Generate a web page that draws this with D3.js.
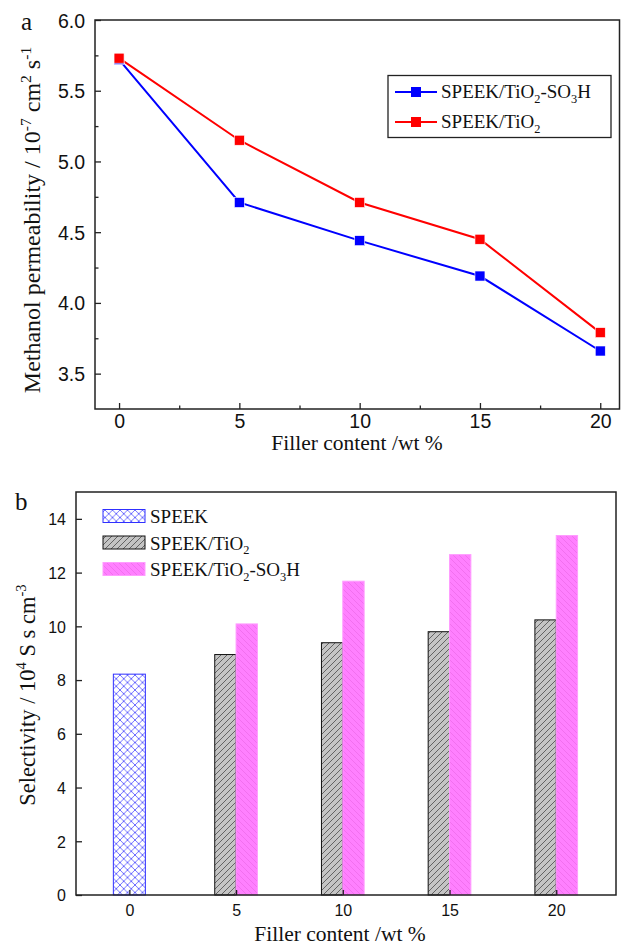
<!DOCTYPE html>
<html>
<head>
<meta charset="utf-8">
<script src="https://cdn.jsdelivr.net/npm/d3@7/dist/d3.min.js"></script>
<style>
  body { margin: 0; background: #fff; }
  svg { display: block; }
</style>
</head>
<body>
<div id="chart"></div>
<script>
// ---- data: panel a (methanol permeability) ----
const fillerA = [0, 5, 10, 15, 20];
const permSO3H = [5.72, 4.71, 4.44, 4.19, 3.66];
const permTiO2 = [5.73, 5.15, 4.71, 4.45, 3.79];
const yTicksA = [3.5, 4.0, 4.5, 5.0, 5.5, 6.0];
const xTicksA = [0, 5, 10, 15, 20];

// ---- data: panel b (selectivity) ----
const speekX = [0];
const speekSel = [8.22];
const fillerB = [5, 10, 15, 20];
const tio2Sel = [8.95, 9.39, 9.80, 10.24];
const so3hSel = [10.09, 11.68, 12.67, 13.38];
const yTicksB = [0, 2, 4, 6, 8, 10, 12, 14];
const xTicksB = [0, 5, 10, 15, 20];

const W = 621, H = 947;
const serif = "'Liberation Serif', 'Times New Roman', serif";
const sans = "'Liberation Sans', Arial, sans-serif";
const axisCol = "#222";

const svg = d3.select("#chart").append("svg")
    .attr("width", W).attr("height", H);

// text with sub/superscripts: parts = [[text, "n"|"sub"|"sup"], ...]
function richText(sel, parts, size) {
    let off = 0;
    parts.forEach(([t, k]) => {
        const target = k === "sup" ? -size * 0.38 : k === "sub" ? size * 0.25 : 0;
        const ts = sel.append("tspan").text(t).attr("dy", target - off);
        if (k !== "n") ts.attr("font-size", size * 0.65);
        off = target;
    });
}

// patterns for panel b
const defs = svg.append("defs");
const cross = defs.append("pattern").attr("id", "cross")
    .attr("patternUnits", "userSpaceOnUse").attr("width", 7.5).attr("height", 7.5);
cross.append("rect").attr("width", 7.5).attr("height", 7.5).attr("fill", "#fff");
cross.append("path").attr("d", "M0,0L7.5,7.5M0,7.5L7.5,0")
    .attr("stroke", "#4a4aff").attr("stroke-width", 0.8);

const grayHatch = defs.append("pattern").attr("id", "grayHatch")
    .attr("patternUnits", "userSpaceOnUse").attr("width", 6).attr("height", 6);
grayHatch.append("rect").attr("width", 6).attr("height", 6).attr("fill", "#c4c4c4");
grayHatch.append("path").attr("d", "M-1,7L7,-1M-1,1L1,-1M5,7L7,5")
    .attr("stroke", "#3a3a3a").attr("stroke-width", 0.7);

const pinkHatch = defs.append("pattern").attr("id", "pinkHatch")
    .attr("patternUnits", "userSpaceOnUse").attr("width", 6).attr("height", 6);
pinkHatch.append("rect").attr("width", 6).attr("height", 6).attr("fill", "#ff80ff");
pinkHatch.append("path").attr("d", "M-1,-1L7,7M-1,5L1,7M5,-1L7,1")
    .attr("stroke", "#ec68e8").attr("stroke-width", 0.7);

// =================== panel a ===================
const xA = d3.scaleLinear().domain([-1, 20.8]).range([95, 619.5]);
const yA = d3.scaleLinear().domain([3.25, 6.0]).range([409, 20]);

const gA = svg.append("g");

// minor ticks
gA.append("g").attr("transform", `translate(${xA.range()[0]},0)`)
    .call(d3.axisLeft(yA).tickValues(d3.range(3.75, 6.0, 0.5)).tickSize(-3.5).tickFormat(""))
    .call(g => g.select(".domain").remove())
    .selectAll("line").attr("stroke", axisCol).attr("stroke-width", 1.3);
gA.append("g").attr("transform", `translate(0,${yA.range()[0]})`)
    .call(d3.axisBottom(xA).tickValues([2.5, 7.5, 12.5, 17.5]).tickSize(-3.5).tickFormat(""))
    .call(g => g.select(".domain").remove())
    .selectAll("line").attr("stroke", axisCol).attr("stroke-width", 1.3);

// major ticks + labels
const yAxisA = gA.append("g").attr("transform", `translate(${xA.range()[0]},0)`)
    .call(d3.axisLeft(yA).tickValues(yTicksA).tickSize(-6).tickPadding(10).tickFormat(d3.format(".1f")));
const xAxisA = gA.append("g").attr("transform", `translate(0,${yA.range()[0]})`)
    .call(d3.axisBottom(xA).tickValues(xTicksA).tickSize(-6).tickPadding(5));
[yAxisA, xAxisA].forEach(ax => {
    ax.select(".domain").remove();
    ax.selectAll("line").attr("stroke", axisCol).attr("stroke-width", 1.3);
    ax.selectAll("text").attr("font-family", sans).attr("font-size", 19.5).attr("fill", "#111");
});
yAxisA.selectAll("text").attr("dy", "0.36em");

// frame
gA.append("rect")
    .attr("x", xA.range()[0]).attr("y", yA.range()[1])
    .attr("width", xA.range()[1] - xA.range()[0]).attr("height", yA.range()[0] - yA.range()[1])
    .attr("fill", "none").attr("stroke", axisCol).attr("stroke-width", 1.5);

// series
const seriesA = [
    { name: [["SPEEK/TiO", "n"], ["2", "sub"], ["-SO", "n"], ["3", "sub"], ["H", "n"]], vals: permSO3H, color: "#0000ff" },
    { name: [["SPEEK/TiO", "n"], ["2", "sub"]], vals: permTiO2, color: "#ff0000" }
];
const lineA = d3.line().x((d, i) => xA(fillerA[i])).y(d => yA(d));
seriesA.forEach(s => {
    gA.append("path").datum(s.vals).attr("d", lineA)
        .attr("fill", "none").attr("stroke", s.color).attr("stroke-width", 2);
});
seriesA.forEach(s => {
    gA.selectAll(null).data(s.vals).enter().append("rect")
        .attr("x", (d, i) => xA(fillerA[i]) - 5).attr("y", d => yA(d) - 5)
        .attr("width", 10).attr("height", 10)
        .attr("fill", s.color).attr("stroke", "#fff").attr("stroke-width", 0.6);
});

// legend a
const legA = gA.append("g");
legA.append("rect").attr("x", 388).attr("y", 75.5).attr("width", 223).attr("height", 62)
    .attr("fill", "#fff").attr("stroke", axisCol).attr("stroke-width", 1.3);
seriesA.forEach((s, i) => {
    const cy = 92 + i * 30;
    legA.append("line").attr("x1", 395).attr("x2", 437).attr("y1", cy).attr("y2", cy)
        .attr("stroke", s.color).attr("stroke-width", 2);
    legA.append("rect").attr("x", 411).attr("y", cy - 5).attr("width", 10).attr("height", 10)
        .attr("fill", s.color);
    const t = legA.append("text").attr("x", 441).attr("y", cy + 6)
        .attr("font-family", serif).attr("font-size", 19).attr("fill", "#111");
    richText(t, s.name, 19);
});

// titles a
gA.append("text").attr("x", 21).attr("y", 30).attr("font-family", serif)
    .attr("font-size", 25).attr("fill", "#111").text("a");
gA.append("text").attr("x", 357).attr("y", 450)
    .attr("text-anchor", "middle").attr("font-family", serif).attr("font-size", 21.5).attr("fill", "#111")
    .text("Filler content /wt %");
const ytA = gA.append("text").attr("transform", "translate(40,220) rotate(-90)")
    .attr("text-anchor", "middle").attr("font-family", serif).attr("font-size", 24).attr("fill", "#111");
richText(ytA, [["Methanol permeability / 10", "n"], ["-7", "sup"], [" cm", "n"], ["2", "sup"], [" s", "n"], ["-1", "sup"]], 24);

// =================== panel b ===================
const xB = d3.scaleLinear().domain([-2.5, 22.8]).range([76, 616]);
const yB = d3.scaleLinear().domain([0, 15]).range([895, 492]);
const gB = svg.append("g");

// bars
gB.selectAll(".speek").data(speekSel).enter().append("rect")
    .attr("x", (d, i) => xB(speekX[i] - 0.75)).attr("y", d => yB(d))
    .attr("width", xB(0.75) - xB(-0.75)).attr("height", d => yB(0) - yB(d))
    .attr("fill", "url(#cross)").attr("stroke", "#3030ff").attr("stroke-width", 1);
gB.selectAll(".tio2").data(tio2Sel).enter().append("rect")
    .attr("x", (d, i) => xB(fillerB[i] - 1)).attr("y", d => yB(d))
    .attr("width", xB(1) - xB(0)).attr("height", d => yB(0) - yB(d))
    .attr("fill", "url(#grayHatch)").attr("stroke", "#111").attr("stroke-width", 1);
gB.selectAll(".so3h").data(so3hSel).enter().append("rect")
    .attr("x", (d, i) => xB(fillerB[i])).attr("y", d => yB(d))
    .attr("width", xB(1) - xB(0)).attr("height", d => yB(0) - yB(d))
    .attr("fill", "url(#pinkHatch)").attr("stroke", "#ff9cff").attr("stroke-width", 1);

const yAxisB = gB.append("g").attr("transform", `translate(${xB.range()[0]},0)`)
    .call(d3.axisLeft(yB).tickValues(yTicksB).tickSize(-6).tickPadding(10));
const xAxisB = gB.append("g").attr("transform", `translate(0,${yB.range()[0]})`)
    .call(d3.axisBottom(xB).tickValues(xTicksB).tickSize(-5).tickPadding(10));
[yAxisB, xAxisB].forEach(ax => {
    ax.select(".domain").remove();
    ax.selectAll("line").attr("stroke", axisCol).attr("stroke-width", 1.3);
    ax.selectAll("text").attr("font-family", sans).attr("font-size", 16).attr("fill", "#111");
});
yAxisB.selectAll("text").attr("dy", "0.36em");

gB.append("rect")
    .attr("x", xB.range()[0]).attr("y", yB.range()[1])
    .attr("width", xB.range()[1] - xB.range()[0]).attr("height", yB.range()[0] - yB.range()[1])
    .attr("fill", "none").attr("stroke", axisCol).attr("stroke-width", 1.5);

// legend b
const legB = [
    { name: [["SPEEK", "n"]], fill: "url(#cross)", stroke: "#3030ff" },
    { name: [["SPEEK/TiO", "n"], ["2", "sub"]], fill: "url(#grayHatch)", stroke: "#111" },
    { name: [["SPEEK/TiO", "n"], ["2", "sub"], ["-SO", "n"], ["3", "sub"], ["H", "n"]], fill: "url(#pinkHatch)", stroke: "#ff9cff" }
];
legB.forEach((s, i) => {
    const base = 523 + i * 26.5;
    gB.append("rect").attr("x", 103).attr("y", base - 13.5).attr("width", 42).attr("height", 13)
        .attr("fill", s.fill).attr("stroke", s.stroke).attr("stroke-width", 1);
    const t = gB.append("text").attr("x", 150).attr("y", base)
        .attr("font-family", serif).attr("font-size", 19).attr("fill", "#111");
    richText(t, s.name, 19);
});

// titles b
gB.append("text").attr("x", 15).attr("y", 510).attr("font-family", serif)
    .attr("font-size", 25).attr("fill", "#111").text("b");
gB.append("text").attr("x", 340).attr("y", 941)
    .attr("text-anchor", "middle").attr("font-family", serif).attr("font-size", 21.5).attr("fill", "#111")
    .text("Filler content /wt %");
const ytB = gB.append("text").attr("transform", "translate(35,695) rotate(-90)")
    .attr("text-anchor", "middle").attr("font-family", serif).attr("font-size", 22.5).attr("fill", "#111");
richText(ytB, [["Selectivity / 10", "n"], ["4", "sup"], [" S s cm", "n"], ["-3", "sup"]], 22.5);
</script>
</body>
</html>
